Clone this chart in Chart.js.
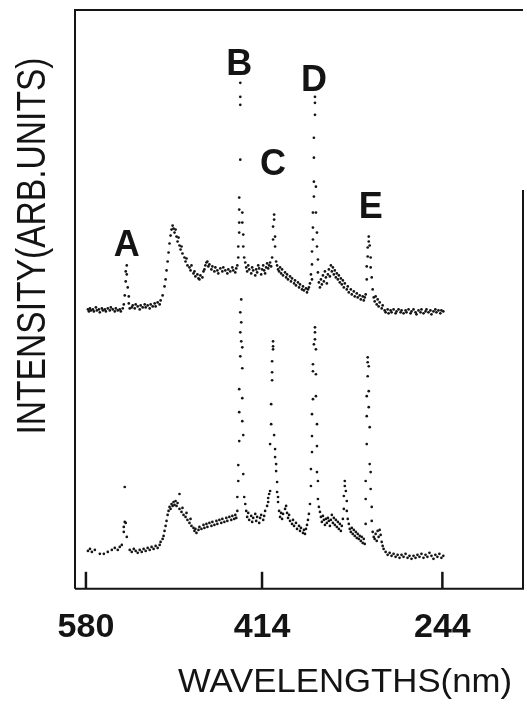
<!DOCTYPE html>
<html>
<head>
<meta charset="utf-8">
<script src="https://cdn.jsdelivr.net/npm/chart.js@4.4.0/dist/chart.umd.min.js"></script>
<style>
  html, body { margin: 0; padding: 0; background: #fff; }
  canvas { display: block; }
</style>
</head>
<body>
<canvas id="spec" width="527" height="704"></canvas>
<script>
// x axis: wavelength (nm), shown reversed
const tickValues = [580, 414, 244];
const xTitle = 'WAVELENGTHS(nm)';
const yTitle = 'INTENSITY(ARB.UNITS)';

// peak letters and where they sit (nm, intensity)
const peakNames = ['A', 'B', 'C', 'D', 'E'];
const peakWl = [541.5, 435.5, 403.6, 365.1, 311.6];
const peakInt = [34.7, 52.8, 42.8, 51.2, 38.5];

// upper trace (offset)
const topWl = [
  578.1,577.2,576.2,575.3,573.4,572.5,570.6,569.7,567.8,566.9,565.0,564.0,562.2,561.2,559.4,557.5,556.5,554.7,552.8,551.8,550.0,548.1,547.1,545.3,
  544.3,543.4,542.5,542.5,541.5,541.5,540.6,539.6,539.6,538.7,
  536.8,535.9,534.0,533.1,531.2,529.3,528.4,526.5,524.6,523.7,521.8,519.9,519.0,517.1,515.2,514.3,512.4,510.5,509.6,
  507.7,505.9,504.9,504.0,503.0,502.1,501.2,500.2,499.3,498.3,497.4,496.5,495.5,494.6,493.6,492.7,491.8,490.8,489.9,489.0,
  487.1,486.1,485.2,484.3,482.4,481.4,480.5,478.6,477.7,476.8,474.9,473.9,473.0,472.1,470.2,469.2,468.3,467.4,466.4,465.5,
  464.6,463.6,461.7,460.8,458.9,458.0,456.1,455.2,453.3,451.4,450.5,448.6,446.7,445.8,443.9,442.0,441.1,439.2,438.3,437.3,
  436.4,436.4,435.5,435.5,435.5,435.5,434.5,434.5,434.5,434.5,432.6,432.6,431.7,431.7,430.8,
  429.8,428.9,428.0,427.0,426.1,424.2,423.3,422.3,420.4,419.5,418.6,417.6,416.7,414.8,413.9,412.9,412.0,411.1,410.1,409.2,408.2,407.3,406.4,405.4,
  404.5,403.6,403.6,402.6,402.6,401.7,401.7,400.7,
  399.8,398.9,397.9,397.0,396.0,395.1,394.2,392.3,391.3,390.4,389.5,387.6,386.7,385.7,383.8,382.9,382.0,380.1,379.1,378.2,376.3,375.4,374.5,372.6,371.6,370.7,369.8,368.8,367.9,
  366.9,366.9,366.9,366.0,366.0,366.0,365.1,365.1,365.1,365.1,364.1,364.1,364.1,363.2,363.2,362.2,362.2,361.3,361.3,360.4,
  359.4,358.5,357.6,356.6,355.7,354.7,353.8,352.9,351.9,351.0,350.0,349.1,348.2,347.2,346.3,345.4,344.4,343.5,342.5,341.6,
  340.7,339.7,338.8,337.8,336.9,336.0,334.1,333.2,332.2,330.3,329.4,327.5,326.6,324.7,323.8,321.9,320.9,319.1,318.1,317.2,
  316.3,315.3,315.3,314.4,314.4,313.4,313.4,312.5,311.6,311.6,310.6,309.7,308.7,
  307.8,306.9,305.9,305.0,304.1,303.1,301.2,300.3,
  298.4,297.5,295.6,294.7,292.8,291.9,290.0,288.1,287.2,285.3,283.4,282.5,280.6,278.7,277.8,275.9,274.0,273.1,271.2,269.3,
  268.4,266.5,264.6,263.7,261.8,259.9,259.0,257.1,255.3,254.3,252.4,250.6,249.6,247.7,245.9,244.9,243.1
];
const topInt = [
  28.0,27.8,28.1,27.9,28.0,27.8,28.2,27.9,28.0,27.7,28.1,27.9,28.0,27.8,28.1,27.9,28.2,28.0,27.8,28.1,27.9,28.0,27.8,28.1,
  28.5,29.4,30.8,31.8,32.4,31.5,30.2,29.3,28.6,28.1,
  28.2,28.4,28.1,28.5,28.3,28.0,28.4,28.2,28.5,28.2,28.4,28.1,28.5,28.3,28.6,28.3,28.7,28.5,28.9,
  29.4,30.3,31.0,31.9,32.8,33.7,34.6,35.4,36.0,36.4,36.1,35.7,36.0,35.3,34.8,35.2,34.4,34.0,34.3,33.6,
  33.2,32.8,33.1,32.4,32.2,31.9,32.4,31.6,31.8,31.3,31.5,31.1,31.0,31.4,31.2,31.8,32.0,32.4,32.7,32.8,
  32.3,32.5,32.0,32.3,31.8,32.2,31.9,31.6,32.1,31.8,32.2,31.9,31.6,32.0,31.8,32.2,31.9,31.7,32.1,32.4,
  33.2,34.3,35.7,36.7,38.0,39.2,43.0,48.5,49.3,50.7,37.7,36.7,35.5,34.3,33.2,
  32.7,32.2,31.8,32.4,32.0,31.6,32.2,31.9,31.4,32.0,31.7,32.4,32.1,31.5,32.0,32.4,31.9,31.6,32.2,32.6,32.1,32.4,32.7,32.3,
  33.2,35.0,36.3,37.5,37.0,35.3,34.3,32.8,
  32.4,32.0,31.8,32.2,31.6,32.0,31.4,31.7,31.2,31.5,31.0,31.3,30.8,31.1,30.6,30.9,30.4,30.7,30.2,30.5,30.0,30.3,29.9,30.1,29.7,30.0,30.2,30.6,31.5,
  31.0,32.5,33.8,35.0,36.2,37.7,39.3,40.8,43.2,45.2,47.5,48.7,49.3,40.3,37.7,35.7,34.3,33.0,31.7,30.7,
  30.2,31.0,30.5,31.4,30.8,31.8,31.2,30.6,31.5,32.0,31.3,32.4,31.8,32.2,31.5,31.9,31.2,31.6,31.0,31.4,
  30.7,31.1,30.5,30.9,30.2,30.6,30.0,30.3,29.7,30.0,29.5,29.8,29.3,29.6,29.2,29.4,29.0,29.3,28.9,29.2,
  29.5,31.0,32.3,33.3,34.2,34.8,35.3,34.4,33.2,32.2,31.2,30.0,29.2,
  28.8,29.3,28.5,29.0,28.3,28.7,28.1,28.4,
  27.9,27.7,28.0,27.6,27.9,27.7,28.0,27.6,27.8,28.0,27.7,27.9,27.6,27.9,27.7,28.0,27.6,27.8,28.0,27.7,
  27.5,27.9,27.7,28.0,27.6,27.8,28.0,27.7,27.9,27.5,27.8,28.0,27.7,27.9,27.6,27.9,27.8
];

// lower trace
const botWl = [
  578.1,576.2,574.4,571.6,566.9,563.1,559.4,555.6,552.8,550.0,548.1,546.2,
  544.3,544.3,543.4,543.4,542.5,541.5,
  538.7,536.8,534.9,533.1,531.2,529.3,527.4,525.6,523.7,521.8,519.9,518.1,516.2,514.3,512.4,510.5,509.6,
  507.7,506.8,505.9,504.9,504.0,503.0,502.1,501.2,500.2,499.3,498.3,497.4,496.5,495.5,494.6,493.6,491.8,491.8,489.9,489.0,
  488.0,486.1,485.2,484.3,482.4,481.4,480.5,478.6,477.7,476.8,475.8,473.9,473.0,471.1,469.2,468.3,466.4,465.5,463.6,461.7,
  460.8,458.9,457.0,456.1,454.2,452.4,451.4,449.5,447.7,446.7,444.8,443.0,442.0,440.2,439.2,438.3,
  437.3,437.3,436.4,436.4,435.5,435.5,435.5,434.5,434.5,434.5,433.6,433.6,433.6,432.6,432.6,432.6,432.6,431.7,431.7,430.8,429.8,
  428.9,428.0,427.0,426.1,424.2,423.3,422.3,420.4,419.5,418.6,416.7,415.8,414.8,412.9,412.0,411.1,
  409.2,408.2,408.2,407.3,406.4,
  406.4,405.4,405.4,404.5,404.5,404.5,403.6,403.6,403.6,402.6,401.7,401.7,400.7,400.7,399.8,399.8,398.9,398.9,
  397.9,397.0,396.0,395.1,394.2,392.3,391.3,390.4,389.5,388.5,387.6,385.7,384.8,383.8,382.0,381.0,379.1,378.2,377.3,375.4,
  374.5,373.5,372.6,371.6,370.7,369.8,
  368.8,367.9,367.9,366.9,366.9,366.9,366.0,366.0,366.0,365.1,364.1,364.1,364.1,363.2,363.2,363.2,362.2,362.2,362.2,361.3,361.3,360.4,359.4,
  358.5,357.6,356.6,355.7,354.7,353.8,352.9,351.9,351.0,350.0,349.1,348.2,347.2,346.3,345.4,344.4,343.5,342.5,341.6,340.7,
  339.7,338.8,337.8,
  336.9,336.9,336.0,336.0,335.0,334.1,334.1,333.2,332.2,
  331.3,330.3,329.4,328.5,327.5,326.6,325.6,324.7,323.8,322.8,321.9,320.9,320.0,319.1,318.1,317.2,
  316.3,316.3,316.3,315.3,315.3,315.3,314.4,314.4,314.4,313.4,313.4,313.4,312.5,312.5,311.6,311.6,310.6,310.6,309.7,308.7,
  307.8,306.9,305.9,305.0,304.1,303.1,302.2,301.2,300.3,299.4,
  297.5,295.6,293.7,291.9,290.0,288.1,286.2,284.4,282.5,280.6,278.7,276.8,275.0,273.1,271.2,269.3,267.5,265.6,263.7,261.8,
  259.9,258.1,256.2,254.3,252.4,250.6,248.7,246.8,244.9,243.1
];
const botInt = [
  3.8,4.0,3.7,3.9,3.5,3.5,3.7,3.9,4.1,3.9,4.2,4.4,
  5.7,6.2,6.7,10.2,6.6,5.2,
  3.9,3.7,4.0,3.8,3.6,3.9,3.7,4.0,3.8,4.1,3.9,4.2,4.0,4.3,4.1,4.4,4.7,
  5.0,5.3,5.8,6.3,6.8,7.4,7.8,8.2,8.0,8.5,8.3,8.7,8.4,8.8,8.3,8.6,9.5,8.0,7.7,8.1,
  7.4,7.2,7.6,6.9,6.6,7.0,6.3,6.1,5.8,6.0,5.6,5.9,6.2,6.0,6.4,6.1,6.5,6.2,6.6,6.3,
  6.7,6.4,6.8,6.5,6.9,6.6,7.0,6.7,7.1,6.8,7.2,6.9,7.3,7.0,7.4,7.1,
  7.8,9.2,10.8,12.4,14.8,17.7,20.0,23.3,25.7,27.7,29.0,26.7,24.8,24.2,22.1,19.1,16.8,15.4,11.5,9.2,8.5,
  7.8,7.2,7.6,6.9,7.3,6.7,7.1,7.5,6.8,7.2,6.6,7.1,7.4,6.9,7.3,7.8,
  8.3,8.7,9.1,9.5,9.8,
  14.5,16.5,18.5,20.9,21.7,22.8,24.0,24.3,24.8,15.4,14.0,13.2,12.5,11.8,10.7,9.7,9.2,8.7,
  7.8,7.2,7.6,7.0,7.5,8.0,8.3,7.6,7.1,7.4,6.8,6.5,6.9,6.3,6.6,6.0,6.3,5.8,6.1,5.6,
  5.9,5.5,6.0,6.4,6.9,7.5,
  8.5,10.3,12.0,13.7,15.3,17.5,19.0,21.8,22.5,24.5,25.0,26.2,25.7,24.0,21.5,19.3,16.5,14.3,11.7,10.8,9.0,8.2,7.7,
  7.2,6.7,7.3,6.9,6.4,7.0,6.6,7.1,6.8,6.3,6.9,7.4,6.6,7.1,6.4,6.9,6.2,6.7,6.0,6.5,
  5.8,6.3,7.0,
  8.0,9.3,10.3,10.8,9.8,8.8,7.8,7.0,6.5,
  6.0,5.7,6.1,5.5,5.9,5.3,5.7,5.1,5.5,5.0,5.3,4.8,5.2,4.6,5.0,4.5,
  6.5,9.0,10.8,14.5,17.3,19.3,21.3,22.7,23.2,22.3,19.8,18.2,16.2,12.5,11.7,10.0,8.2,6.8,5.7,5.2,
  5.0,5.5,4.8,5.8,5.2,5.9,5.4,4.7,4.3,4.0,
  3.7,3.4,3.6,3.3,3.5,3.2,3.4,3.1,3.4,3.2,3.5,3.1,3.3,3.0,3.3,3.1,3.4,3.2,3.5,3.1,
  3.4,3.2,3.6,3.3,3.0,3.4,3.2,3.5,3.1,3.3
];

const ink = '#141414';
const fontFam = '"Liberation Sans", Arial, Helvetica, sans-serif';

function pts(xs, ys){
  return xs.map((x, i) => ({x: x, y: ys[i]}));
}

// frame, inward ticks, letters and the two axis titles
const decor = {
  id: 'decor',
  afterDraw(chart){
    const c = chart.ctx;
    const a = chart.chartArea;
    const sx = chart.scales.x;
    c.save();
    c.strokeStyle = ink;
    c.lineWidth = 2;
    c.beginPath();
    c.moveTo(a.left, a.bottom);
    c.lineTo(a.left, a.top);
    c.lineTo(a.right, a.top);
    c.moveTo(a.left, a.bottom);
    c.lineTo(a.right, a.bottom);
    c.lineTo(a.right, a.top + 180); // upper part of right edge is missing in the print
    c.stroke();

    c.lineWidth = 2.5;
    tickValues.forEach(v => {
      const x = sx.getPixelForValue(v);
      c.beginPath();
      c.moveTo(x, a.bottom);
      c.lineTo(x, a.bottom - 17);
      c.stroke();
    });

    c.fillStyle = ink;
    c.font = 'bold 36px ' + fontFam;
    c.textAlign = 'center';
    c.textBaseline = 'alphabetic';
    peakNames.forEach((t, i) => {
      const x = sx.getPixelForValue(peakWl[i]);
      const y = chart.scales.y.getPixelForValue(peakInt[i]);
      c.fillText(t, x, y + 13);
    });

    // x title
    c.font = '34px ' + fontFam;
    let w = c.measureText(xTitle).width;
    c.save();
    c.translate(345, 692);
    c.scale(334 / w, 1);
    c.fillText(xTitle, 0, 0);
    c.restore();

    // y title, condensed
    c.font = '40px "Liberation Sans Narrow", ' + fontFam;
    w = c.measureText(yTitle).width;
    c.save();
    c.translate(30, 246);
    c.rotate(-Math.PI / 2);
    c.scale(377 / w, 1);
    c.fillText(yTitle, 0, 14.5);
    c.restore();

    c.restore();
  }
};

const chart = new Chart(document.getElementById('spec').getContext('2d'), {
  type: 'scatter',
  data: {
    datasets: [{
      data: pts(topWl, topInt),
      backgroundColor: ink,
      borderWidth: 0,
      pointRadius: 1.35
    }, {
      data: pts(botWl, botInt),
      backgroundColor: ink,
      borderWidth: 0,
      pointRadius: 1.35
    }]
  },
  options: {
    responsive: false,
    animation: false,
    layout: { padding: { left: 75, top: 10, right: 2, bottom: 38.4 } },
    plugins: { legend: { display: false }, tooltip: { enabled: false } },
    scales: {
      x: {
        type: 'linear',
        reverse: true,
        min: 168,
        max: 590.3,
        afterBuildTicks: s => { s.ticks = tickValues.map(v => ({ value: v })); },
        grid: { display: false, drawTicks: false },
        border: { display: false },
        ticks: {
          color: ink,
          font: { family: fontFam, size: 34, weight: 'bold' },
          padding: 18,
          maxRotation: 0,
          autoSkip: false
        }
      },
      y: { display: false, min: 0, max: 58 }
    }
  },
  plugins: [decor]
});
</script>
</body>
</html>
